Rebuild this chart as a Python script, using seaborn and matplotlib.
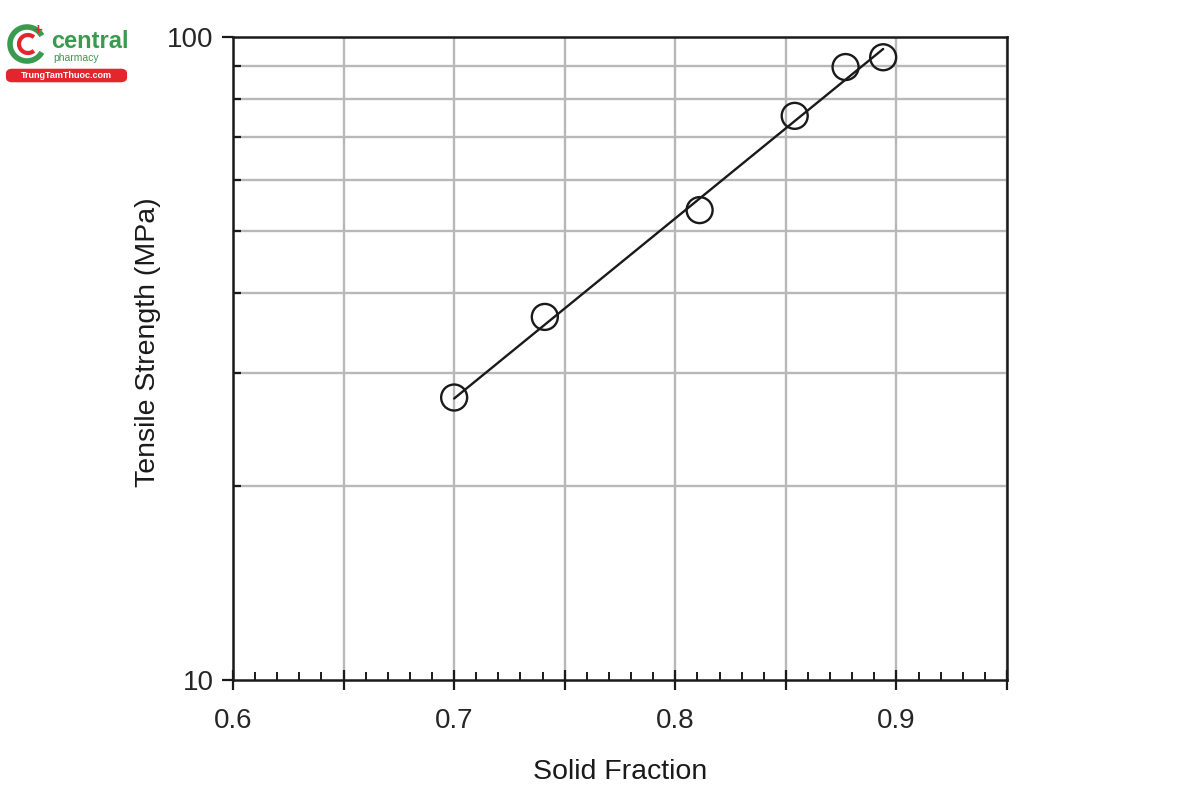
import matplotlib
matplotlib.use("Agg")
import matplotlib.pyplot as plt
import matplotlib.ticker as mticker
from matplotlib.patches import Arc, FancyBboxPatch
import seaborn as sns
import pandas as pd

# Data
solid_fraction = [0.700, 0.741, 0.811, 0.854, 0.877, 0.894]
tensile_strength = [27.5, 36.7, 53.8, 75.4, 89.8, 93.0]
fit_x = [0.700, 0.894]
fit_y = [27.4, 95.8]
x_tick_labels = ["0.6", "0.7", "0.8", "0.9"]
x_tick_values = [0.6, 0.7, 0.8, 0.9]
y_tick_values = [10, 100]
y_tick_labels = ["10", "100"]

sns.set_theme(style="ticks")
plt.rcParams["font.family"] = ["Liberation Sans", "DejaVu Sans"]

df = pd.DataFrame({"x": solid_fraction, "y": tensile_strength})
fit = pd.DataFrame({"x": fit_x, "y": fit_y})

fig = plt.figure(figsize=(12, 8), dpi=100)
ax = fig.add_axes([233 / 1200, 1 - 680 / 800, (1007 - 233) / 1200, (680 - 37) / 800])

sns.lineplot(data=fit, x="x", y="y", ax=ax, color="#1a1a1a", linewidth=1.7, zorder=3)
sns.scatterplot(data=df, x="x", y="y", ax=ax, s=350, facecolor="none",
                edgecolor="#1a1a1a", linewidth=1.7, zorder=4, legend=False)

ax.set_yscale("log")
ax.set_xlim(0.6, 0.95)
ax.set_ylim(10, 100)

# x ticks
ax.xaxis.set_major_locator(mticker.MultipleLocator(0.05))
ax.xaxis.set_minor_locator(mticker.MultipleLocator(0.01))
def xfmt(v, pos):
    for tv, tl in zip(x_tick_values, x_tick_labels):
        if abs(v - tv) < 1e-6:
            return tl
    return ""
ax.xaxis.set_major_formatter(mticker.FuncFormatter(xfmt))
ax.tick_params(axis="x", which="major", direction="inout", length=14, width=1.6,
               color="#1a1a1a", labelsize=20, pad=13)
ax.tick_params(axis="x", which="minor", direction="in", length=6, width=1.4,
               color="#1a1a1a")

# y ticks
ax.yaxis.set_major_locator(mticker.FixedLocator(y_tick_values))
ax.yaxis.set_major_formatter(mticker.FixedFormatter(y_tick_labels))
ax.yaxis.set_minor_locator(mticker.LogLocator(base=10, subs=range(2, 10)))
ax.yaxis.set_minor_formatter(mticker.NullFormatter())
ax.tick_params(axis="y", which="major", direction="out", length=8, width=1.6,
               color="#1a1a1a", labelsize=20, pad=6)
ax.tick_params(axis="y", which="minor", direction="in", length=6, width=1.6,
               color="#1a1a1a")

ax.grid(True, axis="x", which="major", color="#b8b8b8", linewidth=1.7, zorder=0)
ax.grid(True, axis="y", which="minor", color="#b8b8b8", linewidth=1.7, zorder=0)
ax.set_axisbelow(True)

for sp in ax.spines.values():
    sp.set_visible(True)
    sp.set_color("#1a1a1a")
    sp.set_linewidth(1.8)

ax.set_xlabel("Solid Fraction", fontsize=20.5, color="#1a1a1a", labelpad=18)
ax.set_ylabel("Tensile Strength (MPa)", fontsize=20.5, color="#1a1a1a")
ax.yaxis.set_label_coords(-0.093, 0.526)

# Watermark logo (top-left)
green = "#3a9a4f"
red = "#e3262e"
fig.patches.append(Arc((27 / 1200, 1 - 44 / 800), 34 / 1200, 34 / 800, theta1=40, theta2=320,
                       transform=fig.transFigure, color=green, linewidth=4))
fig.patches.append(Arc((28 / 1200, 1 - 44 / 800), 18 / 1200, 18 / 800, theta1=60, theta2=300,
                       transform=fig.transFigure, color=red, linewidth=3))
fig.text(38 / 1200, 1 - 30 / 800, "+", color=red, fontsize=11, fontweight="bold",
         ha="center", va="center")
fig.text(51 / 1200, 1 - 42 / 800, "central", color=green, fontsize=17, ha="left",
         va="center", fontweight="bold")
fig.text(53 / 1200, 1 - 58 / 800, "pharmacy", color=green, fontsize=7.5, ha="left", va="center")
fig.patches.append(FancyBboxPatch((9 / 1200, 1 - 80 / 800), 115 / 1200, 9 / 800,
                                  boxstyle="round,pad=0.002,rounding_size=0.005",
                                  transform=fig.transFigure, facecolor=red, edgecolor=red))
fig.text(66 / 1200, 1 - 75.5 / 800, "TrungTamThuoc.com", color="white", fontsize=6.5,
         ha="center", va="center", fontweight="bold")

fig.savefig("out.png", dpi=100)
